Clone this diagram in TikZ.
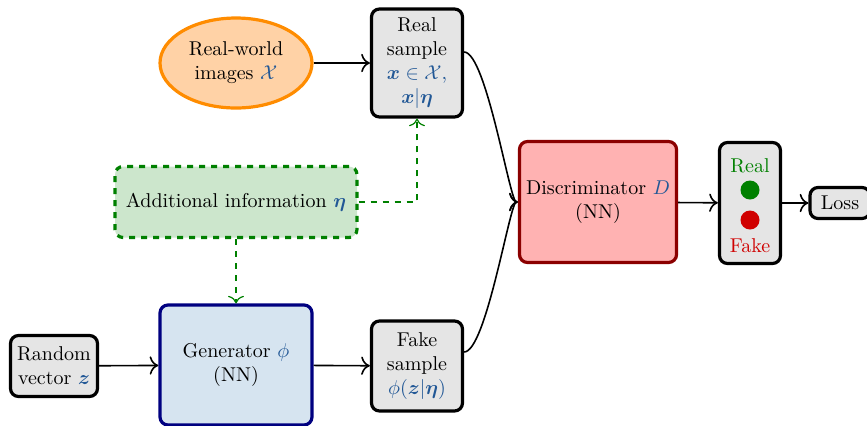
\documentclass[tikz,border=0pt]{standalone}
\usepackage{amsmath}
\usepackage{amssymb}
\usepackage{bm}
\usepackage[svgnames]{xcolor}
\usetikzlibrary{shapes.geometric, arrows.meta}
\definecolor{mathblue}{RGB}{34,88,150}
\definecolor{genfill}{RGB}{214,228,240}
\definecolor{realgreen}{RGB}{0,128,0}
\definecolor{fakered}{RGB}{208,0,0}
\newcommand{\mb}[1]{\textcolor{mathblue}{#1}}

\begin{document}
\begin{tikzpicture}[x=0.5pt, y=-0.5pt, >={To[scale=1.3]},
    box/.style={draw, ultra thick, rounded corners=4pt, fill=black!10, align=center, inner sep=2pt},
    conn/.style={->, thick},
    infoconn/.style={->, semithick, dashed, draw=realgreen}]
  \useasboundingbox (0,0) rectangle (867,425);

  % inputs
  \node[ellipse, draw=DarkOrange, ultra thick, fill=orange!35, align=center,
        minimum width=76pt, minimum height=45pt, inner sep=0pt]
        (world) at (236,63) {Real-world\\images \mb{$\mathcal{X}$}};
  \node[box, minimum width=43.5pt, minimum height=30.5pt]
        (noise) at (54,366) {Random\\vector \mb{$\bm{z}$}};

  % additional information
  \node[draw=realgreen, ultra thick, dashed, rounded corners=4pt, fill=realgreen!20,
        minimum width=121pt, minimum height=35.5pt]
        (info) at (236,202) {Additional information \mb{$\bm{\eta}$}};

  % generator
  \node[draw=Navy, ultra thick, rounded corners=4pt, fill=genfill, align=center,
        minimum width=76pt, minimum height=60pt]
        (gen) at (236,365) {Generator \mb{$\phi$}\\(NN)};

  % samples
  \node[box, minimum width=45.5pt, minimum height=54pt]
        (real) at (417,63) {Real\\sample\\\mb{$\bm{x}\in\mathcal{X}$,}\\\mb{$\bm{x}|\bm{\eta}$}};
  \node[box, minimum width=45.5pt, minimum height=45pt]
        (fake) at (417,366) {Fake\\sample\\\mb{$\phi(\bm{z}|\bm{\eta})$}};

  % discriminator
  \node[draw=DarkRed, ultra thick, rounded corners=4pt, fill=red!30, align=center,
        minimum width=77.5pt, minimum height=60.5pt]
        (disc) at (598,202) {Discriminator \mb{$D$}\\(NN)};

  % decision
  \node[box, minimum width=30.5pt, minimum height=60.5pt] (out) at (750,203) {};
  \node[text=realgreen] (reallabel) at (750,166) {Real};
  \node[circle, fill=realgreen, minimum size=9.5pt, inner sep=0pt] (realdot) at (750,190) {};
  \node[circle, fill=fakered, minimum size=9.5pt, inner sep=0pt] (fakedot) at (750,220) {};
  \node[text=fakered] (fakelabel) at (750,246) {Fake};
  \node[box, minimum width=30pt, minimum height=15.5pt] (loss) at (840,203) {Loss};

  % connections
  \draw[conn] (world) -- (real);
  \draw[conn] (noise) -- (gen);
  \draw[conn] (gen) -- (fake);
  \draw[infoconn] (info.east) -| (real.south);
  \draw[infoconn] (info.south) -- (gen.north);
  \draw[conn] ([yshift=5.5pt]real.east) .. controls +(22,0) and +(-8,0) .. (disc.west);
  \draw[conn] ([yshift=7pt]fake.east) .. controls +(22,0) and +(-8,0) .. (disc.west);
  \draw[conn] (disc) -- (out);
  \draw[conn] (out) -- (loss);
\end{tikzpicture}
\end{document}
